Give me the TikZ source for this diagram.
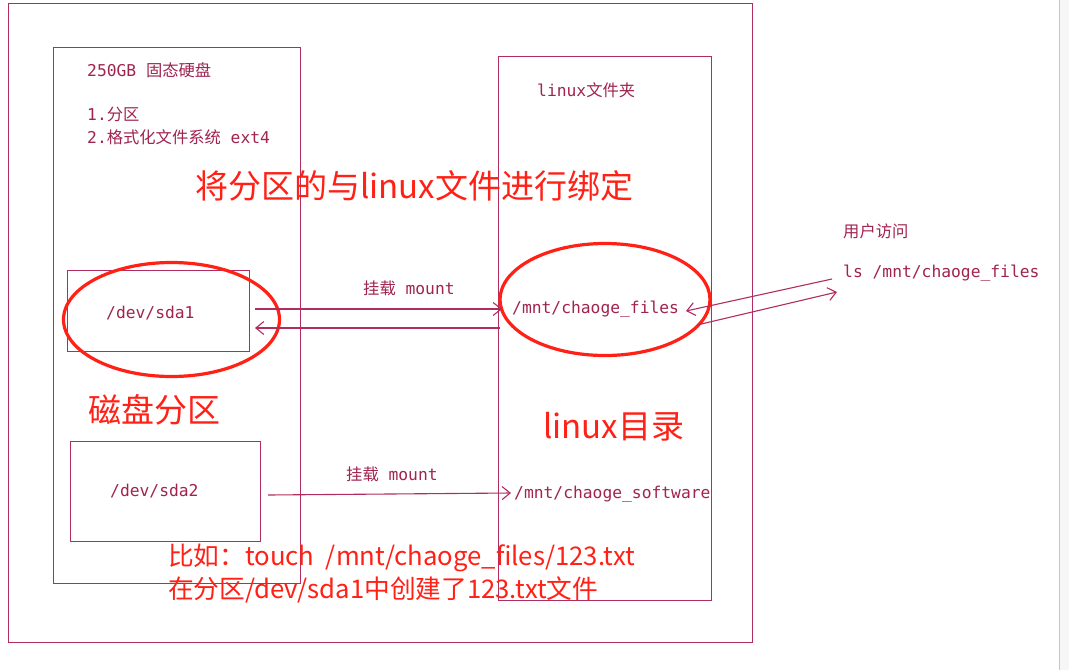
\documentclass[tikz,border=0pt]{standalone}
\usepackage{fontspec}
\setmonofont{DejaVu Sans Mono}
\newfontfamily\cjk{Noto Sans CJK SC}
\usetikzlibrary{arrows.meta}
\definecolor{ink}{RGB}{178,45,95}
\definecolor{txt}{RGB}{160,35,80}
\definecolor{hot}{RGB}{255,32,22}
\tikzset{
  box/.style={draw=ink, line width=1.3pt, inner sep=0pt, anchor=north west},
  lbl/.style={text=txt, font=\ttfamily\fontsize{16.3}{19}\selectfont, anchor=west, inner sep=0pt},
  big/.style={text=hot, font=\cjk\fontsize{33}{40}\selectfont, anchor=west, inner sep=0pt},
  note/.style={text=hot, font=\cjk\fontsize{25.7}{30}\selectfont, anchor=west, inner sep=0pt},
  ring/.style={draw=hot, line width=3.2pt},
  arr/.style={draw=ink, line width=1.1pt, -{Straight Barb[length=8pt,width=13pt]}},
}
\begin{document}
\begin{tikzpicture}[x=1pt,y=-1pt]
\useasboundingbox (0,0) rectangle (1069,670);
\fill[white] (0,0) rectangle (1069,670);
% right strip
\fill[gray!7] (1060,0) rectangle (1069,670);
\draw[gray!45, line width=1.5pt] (1059.5,0) -- (1059.5,670);

% boxes
\node[box, minimum width=744pt, minimum height=639pt] (outer) at (8,3) {};
\node[box, minimum width=247pt, minimum height=536pt] (disk) at (53,47) {};
\node[box, minimum width=213pt, minimum height=544pt] (dir) at (498,56) {};
\node[box, minimum width=182pt, minimum height=81pt] (p1) at (67,270) {};
\node[box, minimum width=190pt, minimum height=100pt] (p2) at (70,441) {};

% texts in disk box
\node[lbl] (t250) at (87,70) {250GB {\cjk 固态硬盘}};
\node[lbl] (t1) at (87,114) {1.{\cjk 分区}};
\node[lbl] (t2) at (87,137) {2.{\cjk 格式化文件系统} ext4};
\node[lbl] (tlf) at (537,90) {linux{\cjk 文件夹}};

% device and mount labels
\node[lbl] (sda1) at (106,313) {/dev/sda1};
\node[lbl] (sda2) at (110,491) {/dev/sda2};
\node[lbl] (mnt1) at (512,309) {/mnt/chaoge\_files};
\node[lbl] (mnt2) at (514,494) {/mnt/chaoge\_software};
\node[lbl] (m1) at (363,288) {{\cjk 挂载} mount};
\node[lbl] (m2) at (346,474) {{\cjk 挂载} mount};
\node[lbl] (user) at (843,231) {{\cjk 用户访问}};
\node[lbl] (ls) at (843,273) {ls /mnt/chaoge\_files};

% red texts
\node[big] (bind) at (195,186) {将分区的与linux文件进行绑定};
\node[big] (part) at (88,410) {磁盘分区};
\node[big] (ldir) at (543,427) {linux目录};
\node[note] (ex1) at (168,558) {比如：touch\ \ /mnt/chaoge\_files/123.txt};
\node[note] (ex2) at (168,590) {在分区/dev/sda1中创建了123.txt文件};

% ellipses
\draw[ring] (171.5,319.5) ellipse [x radius=108, y radius=57];
\draw[ring] (605,299.5) ellipse [x radius=105, y radius=56];

% connector end points
\coordinate (a1s) at (255,309);
\coordinate (a1e) at (502,309);
\coordinate (a2s) at (500,328);
\coordinate (a2e) at (255,328);
\coordinate (a3s) at (268,495);
\coordinate (a3e) at (511,493);
\coordinate (u1s) at (832,279);
\coordinate (u1e) at (686,311);
\coordinate (u2s) at (697,325);
\coordinate (u2e) at (837,292);

\draw[arr] (a1s) -- (a1e);
\draw[arr] (a2s) -- (a2e);
\draw[arr] (a3s) -- (a3e);
\draw[arr] (u1s) -- (u1e);
\draw[arr] (u2s) -- (u2e);
\end{tikzpicture}
\end{document}
